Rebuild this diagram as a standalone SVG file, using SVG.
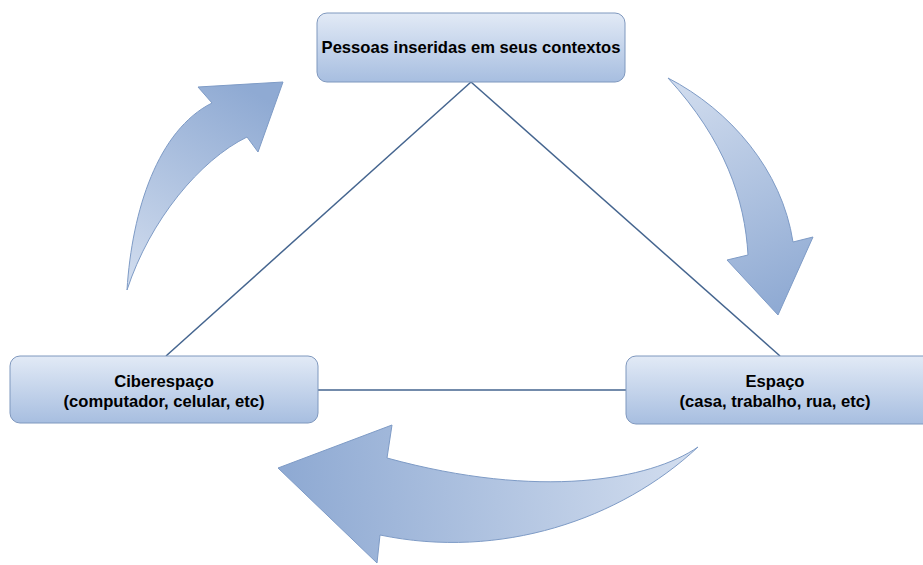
<svg xmlns="http://www.w3.org/2000/svg" width="923" height="565" viewBox="0 0 923 565">
<defs>
<linearGradient id="boxg" x1="0" y1="0" x2="0" y2="1">
<stop offset="0" stop-color="#e2eaf6"/>
<stop offset="1" stop-color="#a7bee0"/>
</linearGradient>
<linearGradient id="a1" gradientUnits="userSpaceOnUse" x1="127" y1="290" x2="250" y2="90">
<stop offset="0" stop-color="#d3deef"/>
<stop offset="1" stop-color="#8faad3"/>
</linearGradient>
<linearGradient id="a2" gradientUnits="userSpaceOnUse" x1="668" y1="78" x2="778" y2="310">
<stop offset="0" stop-color="#d3deef"/>
<stop offset="1" stop-color="#8faad3"/>
</linearGradient>
<linearGradient id="a3" gradientUnits="userSpaceOnUse" x1="698" y1="450" x2="290" y2="490">
<stop offset="0" stop-color="#d3deef"/>
<stop offset="1" stop-color="#8faad3"/>
</linearGradient>
<style>
.box{fill:url(#boxg);stroke:#7f98be;stroke-width:1}
.t{font-family:"Liberation Sans",Arial,sans-serif;font-weight:bold;font-size:16.6px;fill:#000;text-anchor:middle}
.ln{stroke:#45658f;stroke-width:1.5;fill:none}
.arr{stroke:#7e9bc6;stroke-width:1}
</style>
</defs>
<g id="connectors">
<line class="ln" x1="471" y1="82" x2="166" y2="356"/>
<line class="ln" x1="471" y1="82" x2="780" y2="356"/>
<line class="ln" x1="318" y1="390" x2="626" y2="390"/>
</g>
<g id="arrows">
<path class="arr" fill="url(#a1)" d="M127,290 C132,210 158,130 212,103 L198,87 L283,82 L258,152 L247,137 C200,160 150,220 127,290 Z"/>
<path class="arr" fill="url(#a2)" d="M668,78 C730,110 782,170 793,242 L813,237 L778,315 L727,260 L748,255 C745,200 725,140 668,78 Z"/>
<path class="arr" fill="url(#a3)" d="M698,447 C650,480 540,500 387,458 L392,425 L278,468 L377,563 L380,535 C500,560 620,520 698,447 Z"/>
</g>
<g id="node-top">
<rect class="box" x="317" y="13" width="308" height="69" rx="10"/>
<text class="t" x="471" y="53">Pessoas inseridas em seus contextos</text>
</g>
<g id="node-left">
<rect class="box" x="10" y="356" width="308" height="67" rx="10"/>
<text class="t" x="164" y="387">Ciberespaço</text>
<text class="t" x="164" y="407">(computador, celular, etc)</text>
</g>
<g id="node-right">
<rect class="box" x="626" y="356" width="308" height="68" rx="10"/>
<text class="t" x="775" y="387">Espaço</text>
<text class="t" x="775" y="407">(casa, trabalho, rua, etc)</text>
</g>
</svg>
